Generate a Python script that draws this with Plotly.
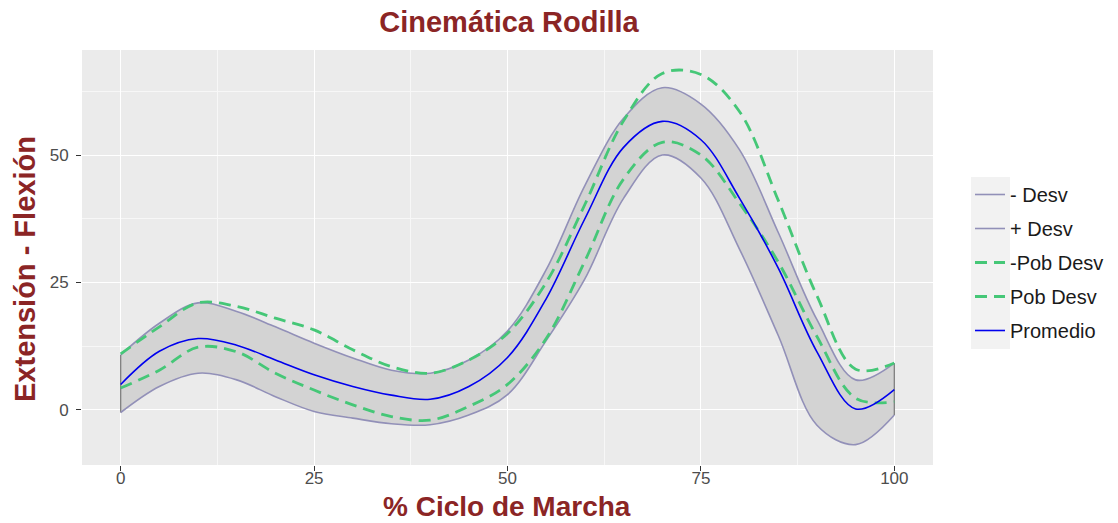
import plotly.graph_objects as go

# % ciclo de marcha
ciclo = [0, 5, 10, 15, 20, 25, 30, 35, 40, 45, 50, 55, 60, 65, 70, 75, 80, 85, 90, 95, 100]

promedio  = [5.0, 11.5, 14.0, 12.7, 9.8, 6.9, 4.6, 2.9, 2.1, 4.6, 10.3, 21.8, 37.5, 51.5, 56.6, 53.0, 41.5, 27.8, 11.4, 0.2, 4.0]
mas_desv  = [10.8, 17.0, 21.0, 19.3, 16.3, 13.1, 10.2, 7.8, 7.2, 9.8, 15.5, 27.5, 44.0, 57.2, 63.2, 60.0, 51.0, 34.8, 17.7, 5.9, 9.2]
menos_desv = [-0.5, 4.6, 7.2, 5.9, 2.6, -0.3, -1.6, -2.7, -2.9, -1.0, 3.0, 13.6, 25.7, 41.5, 50.0, 45.5, 31.5, 14.6, -3.0, -6.8, -1.0]
pob_desv  = [11.0, 16.3, 21.0, 20.3, 18.0, 15.7, 11.8, 8.5, 7.2, 9.8, 15.0, 25.0, 40.3, 56.7, 66.0, 65.8, 58.5, 41.1, 22.4, 8.0, 9.2]
pob_menos = [4.3, 7.8, 12.3, 11.4, 7.2, 3.9, 1.0, -1.3, -2.0, 0.7, 5.0, 14.0, 29.2, 45.3, 52.5, 50.0, 40.5, 29.0, 14.4, 2.3, 1.6]

x_ticks = [0, 25, 50, 75, 100]
y_ticks = [0, 25, 50]

BAND_LINE = "#9290B8"
BAND_FILL = "#D3D3D3"
GREEN = "#45C777"
BLUE = "#0000EE"
TITLE_COL = "#8B2525"
FONT = "Liberation Sans"

W, H = 1118, 523
PL, PR, PT, PB = 82, 933, 50, 465          # panel edges in pixels
PW, PH = PR - PL, PB - PT


def px(xs):
    return (xs - PL) / PW


def py(ys):
    return 1 - (ys - PT) / PH


fig = go.Figure()

# ribbon fill
fig.add_trace(go.Scatter(x=ciclo, y=menos_desv, mode="lines", line=dict(width=0, shape="spline"),
                         showlegend=False, hoverinfo="skip"))
fig.add_trace(go.Scatter(x=ciclo, y=mas_desv, mode="lines", line=dict(width=0, shape="spline"),
                         fill="tonexty", fillcolor=BAND_FILL, showlegend=False, hoverinfo="skip"))
# ribbon vertical edges
fig.add_trace(go.Scatter(x=[ciclo[0], ciclo[0], None, ciclo[-1], ciclo[-1]],
                         y=[menos_desv[0], mas_desv[0], None, menos_desv[-1], mas_desv[-1]],
                         mode="lines", line=dict(color="#7F7F7F", width=1.3),
                         showlegend=False, hoverinfo="skip"))

fig.add_trace(go.Scatter(x=ciclo, y=menos_desv, mode="lines", name="- Desv", legendgroup="a",
                         line=dict(color=BAND_LINE, width=1.6, shape="spline")))
fig.add_trace(go.Scatter(x=ciclo, y=mas_desv, mode="lines", name="+ Desv", legendgroup="b",
                         line=dict(color=BAND_LINE, width=1.6, shape="spline")))
fig.add_trace(go.Scatter(x=ciclo, y=pob_menos, mode="lines", name="-Pob Desv", legendgroup="c",
                         line=dict(color=GREEN, width=2.8, dash="12px,7px", shape="spline")))
fig.add_trace(go.Scatter(x=ciclo, y=pob_desv, mode="lines", name="Pob Desv", legendgroup="d",
                         line=dict(color=GREEN, width=2.8, dash="12px,7px", shape="spline")))
fig.add_trace(go.Scatter(x=ciclo, y=promedio, mode="lines", name="Promedio", legendgroup="e",
                         line=dict(color=BLUE, width=1.6, shape="spline")))

axis_common = dict(
    showgrid=True, gridcolor="#FFFFFF", gridwidth=1.4, zeroline=False, automargin=False,
    ticks="outside", ticklen=5, tickwidth=1.1, tickcolor="#333333",
    tickfont=dict(family=FONT, size=17, color="#4D4D4D"),
    showline=False,
    minor=dict(showgrid=True, gridcolor="#F7F7F7", gridwidth=0.7, dtick=12.5, tick0=0),
)

fig.update_layout(
    width=W, height=H,
    margin=dict(l=PL, r=W - PR, t=PT, b=H - PB, autoexpand=False),
    paper_bgcolor="#FFFFFF", plot_bgcolor="#EBEBEB",
    title=dict(text="Cinemática Rodilla", x=px(509), xref="paper", y=1 - 22 / H, yref="container",
               xanchor="center", yanchor="middle",
               font=dict(family=FONT, size=29, color=TITLE_COL, weight="bold")),
    xaxis=dict(range=[-5, 105], tickvals=x_ticks, ticktext=[str(v) for v in x_ticks],
               ticklabelstandoff=-7, **axis_common),
    yaxis=dict(range=[-10.8, 70.6], tickvals=y_ticks, ticktext=[str(v) for v in y_ticks],
               ticklabelstandoff=4, **axis_common),
    annotations=[
        dict(text="Extensión - Flexión", textangle=-90, xref="paper", yref="paper",
             x=px(25), y=py(269), xanchor="center", yanchor="middle", showarrow=False,
             font=dict(family=FONT, size=29, color=TITLE_COL, weight="bold")),
        dict(text="% Ciclo de Marcha", xref="paper", yref="paper",
             x=px(507), y=py(506), xanchor="center", yanchor="middle", showarrow=False,
             font=dict(family=FONT, size=28, color=TITLE_COL, weight="bold")),
    ],
    legend=dict(x=px(970), xanchor="left", y=py(175), yanchor="top",
                bgcolor="rgba(0,0,0,0)", font=dict(family=FONT, size=20, color="#1A1A1A"),
                tracegroupgap=5, traceorder="grouped"),
    shapes=[dict(type="rect", xref="paper", yref="paper", layer="below",
                 x0=px(971), x1=px(1010), y0=py(349), y1=py(177),
                 fillcolor="#F2F2F2", line=dict(width=0))],
    hovermode=False,
)

fig.write_html("out.html", config={"displayModeBar": False},
               post_script="document.body.style.margin='0';")
